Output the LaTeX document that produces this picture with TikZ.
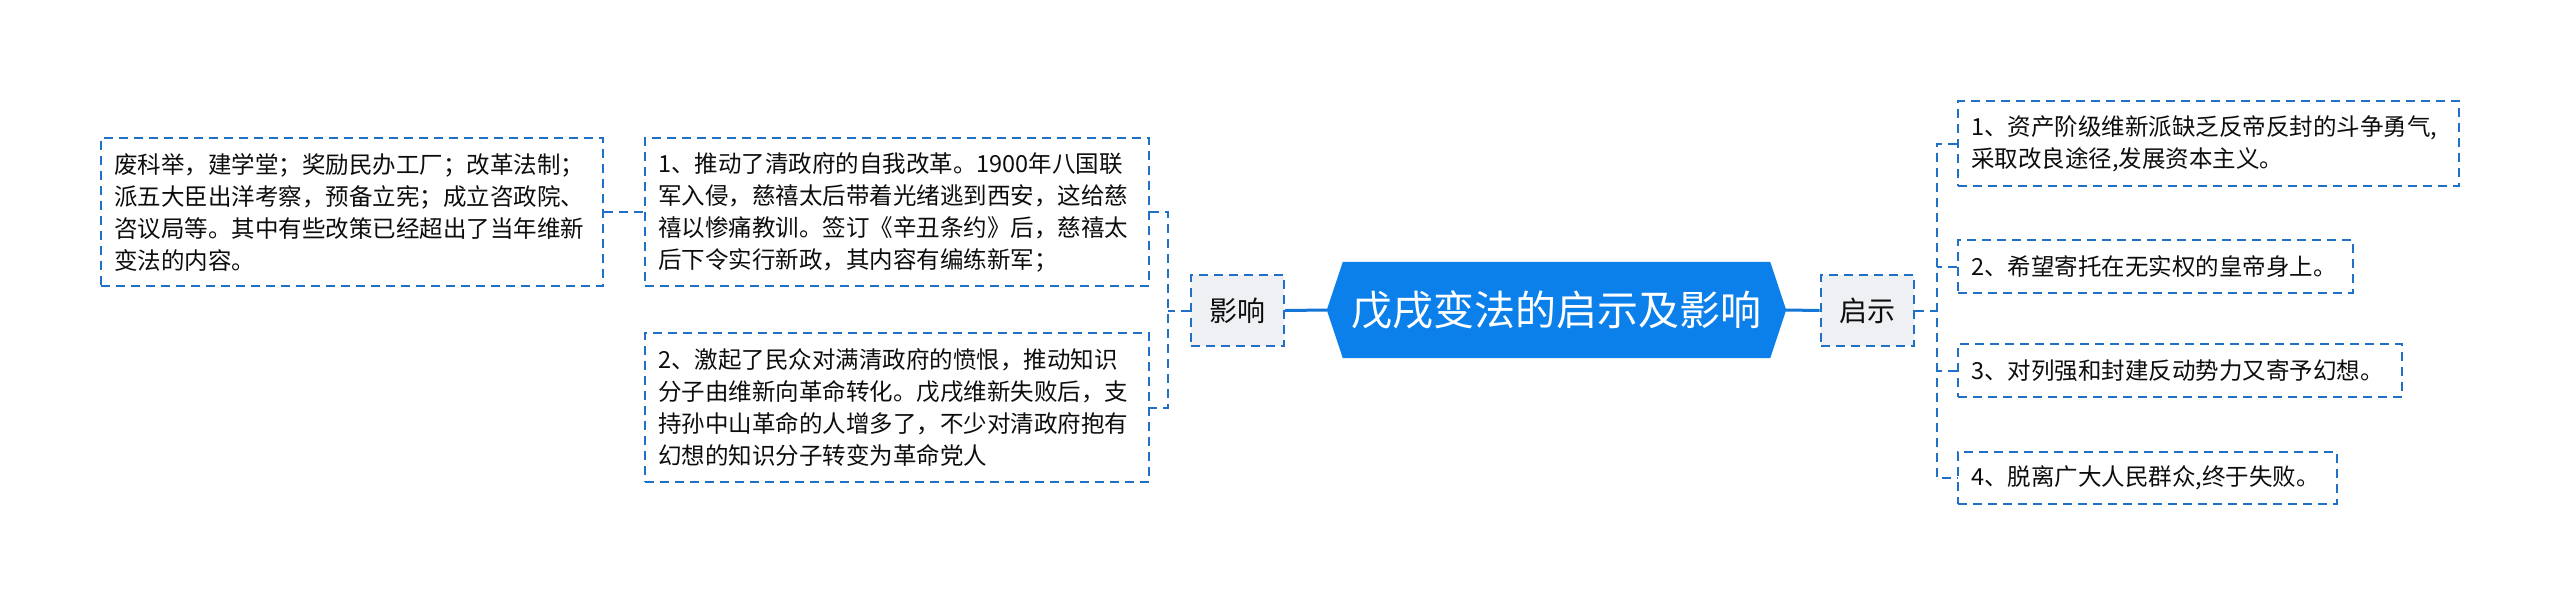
\documentclass[tikz,border=0pt]{standalone}
\usepackage{fontspec}
\setmainfont{Noto Sans CJK SC}
\usetikzlibrary{backgrounds}
\definecolor{dashblue}{RGB}{32,112,200}
\definecolor{rootblue}{RGB}{12,128,234}
\definecolor{lineblue}{RGB}{22,118,214}
\definecolor{subgray}{RGB}{238,240,243}
\tikzset{
  txtbox/.style={draw=dashblue, line width=2pt, dash pattern=on 9pt off 6pt,
    inner xsep=13pt, inner ysep=0pt, align=left, text=black!95,
    font=\fontsize{23.5}{32}\selectfont},
  subbox/.style={draw=dashblue, fill=subgray, line width=2pt, dash pattern=on 9pt off 6pt,
    minimum width=93pt, minimum height=71pt, inner sep=0pt, text=black!95,
    font=\fontsize{28}{32}\selectfont},
  rootnode/.style={minimum width=459pt, minimum height=96pt, inner sep=0pt,
    text=white, font=\fontsize{41}{44}\selectfont},
  conn/.style={draw=lineblue, line width=3pt},
  dconn/.style={draw=dashblue, line width=2pt, dash pattern=on 9pt off 6pt},
}
\begin{document}
\begin{tikzpicture}[x=1pt,y=-1pt]
\useasboundingbox (0,0) rectangle (2560,606);
% left side
\node[txtbox, minimum width=502pt, minimum height=148pt, text width=476pt] (lb) at (352,212)
  {废科举，建学堂；奖励民办工厂；改革法制；\\派五大臣出洋考察，预备立宪；成立咨政院、\\咨议局等。其中有些改策已经超出了当年维新\\变法的内容。};
\node[txtbox, minimum width=504pt, minimum height=148pt, text width=478pt] (b1) at (897,212)
  {1、推动了清政府的自我改革。1900年八国联\\军入侵，慈禧太后带着光绪逃到西安，这给慈\\禧以惨痛教训。签订《辛丑条约》后，慈禧太\\后下令实行新政，其内容有编练新军；};
\node[txtbox, minimum width=504pt, minimum height=149pt, text width=478pt] (b2) at (897,407.5)
  {2、激起了民众对满清政府的愤恨，推动知识\\分子由维新向革命转化。戊戌维新失败后，支\\持孙中山革命的人增多了，不少对清政府抱有\\幻想的知识分子转变为革命党人};
\node[subbox] (yx) at (1237.5,310.5) {影响};
% root
\node[rootnode] (root) at (1556.5,310) {戊戌变法的启示及影响};
\begin{scope}[on background layer]
  \fill[rootblue] (root.west) -- ([xshift=16pt]root.north west) -- ([xshift=-16pt]root.north east)
    -- (root.east) -- ([xshift=-16pt]root.south east) -- ([xshift=16pt]root.south west) -- cycle;
\end{scope}
% right side
\node[subbox] (qs) at (1867,310.5) {启示};
\node[txtbox, minimum width=501pt, minimum height=85pt, text width=475pt] (r1) at (2208.5,143.5)
  {1、资产阶级维新派缺乏反帝反封的斗争勇气,\\采取改良途径,发展资本主义。};
\node[txtbox, minimum width=395pt, minimum height=53pt, text width=369pt] (r2) at (2155.5,266.5)
  {2、希望寄托在无实权的皇帝身上。};
\node[txtbox, minimum width=444pt, minimum height=53pt, text width=418pt] (r3) at (2180,370.5)
  {3、对列强和封建反动势力又寄予幻想。};
\node[txtbox, minimum width=379pt, minimum height=52pt, text width=353pt] (r4) at (2147.5,478)
  {4、脱离广大人民群众,终于失败。};
% connectors
\coordinate (lj) at ([xshift=-22pt]yx.west);
\coordinate (rj) at ([xshift=22pt]qs.east);
\draw[dconn] (lb.east) -- (b1.west);
\draw[dconn] (yx.west) -- (lj);
\draw[dconn] (b1.east) -| (lj) |- (b2.east);
\draw[conn] (yx.east) -- (root.west);
\draw[conn] (root.east) -- (qs.west);
\draw[dconn] (qs.east) -- (rj);
\draw[dconn] (r1.west) -| (rj) |- (r4.west);
\draw[dconn] (r2.west) -- (r2.west -| rj);
\draw[dconn] (r3.west) -- (r3.west -| rj);
\end{tikzpicture}
\end{document}
